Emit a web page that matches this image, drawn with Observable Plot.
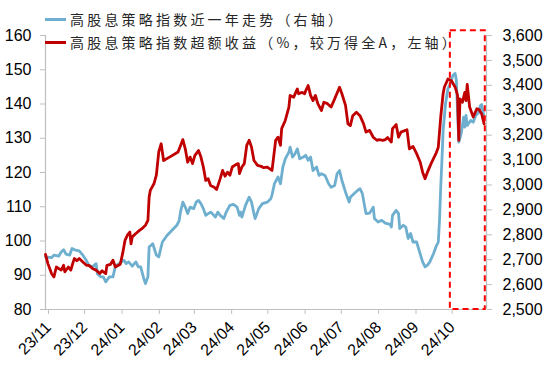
<!DOCTYPE html>
<html><head><meta charset="utf-8">
<script src="https://cdn.jsdelivr.net/npm/d3@7"></script>
<script src="https://cdn.jsdelivr.net/npm/@observablehq/plot@0.6"></script>
<style>
body{margin:0;background:#fff;}
#wrap{position:relative;width:550px;height:367px;overflow:hidden;}
.leg{position:absolute;left:45px;height:16px;font-family:"Noto Sans CJK SC",sans-serif;font-size:14px;letter-spacing:3.2px;color:#262626;display:flex;align-items:center;white-space:nowrap;line-height:16px;}
.sw{width:21px;height:3px;margin-right:4px;flex:none;}
</style></head>
<body><div id="wrap"></div>
<script>
// ---- series labels
const blueName = "高股息策略指数近一年走势（右轴）";
const redName = "高股息策略指数超额收益（%，较万得全A，左轴）";

// ---- excess return (left axis, %)
const redDates = ["2023-11-01","2023-11-03","2023-11-06","2023-11-08","2023-11-10","2023-11-14","2023-11-16","2023-11-17","2023-11-20","2023-11-22","2023-11-24","2023-11-25","2023-11-27","2023-11-29","2023-12-02","2023-12-05","2023-12-07","2023-12-10","2023-12-13","2023-12-16","2023-12-18","2023-12-21","2023-12-22","2023-12-25","2023-12-27","2023-12-29","2024-01-02","2024-01-04","2024-01-06","2024-01-08","2024-01-10","2024-01-11","2024-01-12","2024-01-15","2024-01-18","2024-01-20","2024-01-23","2024-01-25","2024-01-26","2024-01-27","2024-01-30","2024-02-01","2024-02-02","2024-02-03","2024-02-05","2024-02-07","2024-02-13","2024-02-19","2024-02-23","2024-02-25","2024-02-27","2024-02-29","2024-03-02","2024-03-04","2024-03-07","2024-03-09","2024-03-11","2024-03-13","2024-03-15","2024-03-17","2024-03-20","2024-03-22","2024-03-25","2024-03-27","2024-03-29","2024-03-31","2024-04-02","2024-04-04","2024-04-07","2024-04-09","2024-04-10","2024-04-12","2024-04-14","2024-04-16","2024-04-18","2024-04-20","2024-04-22","2024-04-25","2024-04-28","2024-04-30","2024-05-03","2024-05-07","2024-05-08","2024-05-10","2024-05-12","2024-05-14","2024-05-15","2024-05-18","2024-05-21","2024-05-22","2024-05-25","2024-05-28","2024-05-29","2024-06-01","2024-06-03","2024-06-04","2024-06-06","2024-06-08","2024-06-10","2024-06-12","2024-06-14","2024-06-17","2024-06-19","2024-06-22","2024-06-25","2024-06-28","2024-07-02","2024-07-04","2024-07-07","2024-07-09","2024-07-11","2024-07-13","2024-07-16","2024-07-19","2024-07-22","2024-07-24","2024-07-27","2024-07-30","2024-08-02","2024-08-04","2024-08-07","2024-08-09","2024-08-11","2024-08-14","2024-08-15","2024-08-18","2024-08-20","2024-08-22","2024-08-27","2024-08-29","2024-09-01","2024-09-04","2024-09-07","2024-09-09","2024-09-11","2024-09-13","2024-09-16","2024-09-20","2024-09-22","2024-09-24","2024-09-26","2024-09-27","2024-09-30","2024-10-03","2024-10-06","2024-10-08","2024-10-09","2024-10-10","2024-10-12","2024-10-14","2024-10-15","2024-10-16","2024-10-18","2024-10-21","2024-10-24","2024-10-26","2024-10-28","2024-10-30"];
const redValues = [96.1,93.4,90.5,89.5,92.4,91.5,92.9,91.0,92.4,91.5,93.9,94.9,94.2,94.9,93.9,92.9,92.9,92.0,91.5,90.5,91.3,90.5,92.9,93.2,94.4,92.4,93.2,96.3,100.2,101.7,102.6,99.2,101.2,102.2,103.1,103.6,104.6,106.0,112.8,114.8,116.7,119.2,122.6,126.0,128.4,123.5,124.7,126.0,129.6,126.9,123.0,124.5,122.6,125.0,126.4,124.5,121.6,117.7,118.2,116.2,115.7,115.0,118.2,120.6,118.9,120.1,119.2,121.6,122.3,122.6,119.7,121.6,122.6,127.9,129.4,127.4,123.5,122.1,121.8,121.4,121.6,120.6,123.5,129.4,130.3,127.9,132.8,135.2,139.1,142.5,142.0,144.4,143.0,143.4,143.0,143.9,145.4,142.5,141.0,142.5,140.1,138.1,140.5,140.1,139.1,141.5,144.9,143.0,139.6,134.2,133.7,136.6,137.6,136.6,134.2,131.8,132.3,130.3,129.4,129.6,129.4,129.6,130.2,128.9,132.8,134.0,130.3,131.8,132.5,126.9,127.6,125.5,123.0,120.1,118.2,120.1,122.6,125.5,127.4,136.2,143.0,144.9,147.3,146.8,144.9,142.5,129.4,141.5,140.5,143.4,141.0,145.7,139.1,136.2,138.6,138.3,137.1,134.2];

// ---- index level (right axis)
const blueDates = ["2023-11-01","2023-11-06","2023-11-08","2023-11-12","2023-11-14","2023-11-16","2023-11-18","2023-11-21","2023-11-23","2023-11-26","2023-11-29","2023-12-02","2023-12-04","2023-12-07","2023-12-10","2023-12-13","2023-12-14","2023-12-17","2023-12-19","2023-12-21","2023-12-24","2023-12-27","2023-12-29","2024-01-03","2024-01-05","2024-01-07","2024-01-09","2024-01-12","2024-01-15","2024-01-17","2024-01-19","2024-01-22","2024-01-23","2024-01-25","2024-01-26","2024-01-29","2024-02-01","2024-02-03","2024-02-06","2024-02-10","2024-02-14","2024-02-18","2024-02-20","2024-02-21","2024-02-23","2024-02-25","2024-02-27","2024-02-29","2024-03-03","2024-03-05","2024-03-07","2024-03-09","2024-03-11","2024-03-13","2024-03-15","2024-03-17","2024-03-19","2024-03-21","2024-03-23","2024-03-25","2024-03-28","2024-03-30","2024-04-02","2024-04-05","2024-04-08","2024-04-10","2024-04-11","2024-04-12","2024-04-15","2024-04-18","2024-04-20","2024-04-22","2024-04-23","2024-04-26","2024-04-29","2024-05-03","2024-05-06","2024-05-07","2024-05-09","2024-05-12","2024-05-14","2024-05-16","2024-05-18","2024-05-21","2024-05-22","2024-05-24","2024-05-26","2024-05-28","2024-05-30","2024-06-02","2024-06-04","2024-06-06","2024-06-08","2024-06-10","2024-06-13","2024-06-15","2024-06-17","2024-06-20","2024-06-23","2024-06-25","2024-06-28","2024-06-30","2024-07-02","2024-07-04","2024-07-07","2024-07-08","2024-07-10","2024-07-11","2024-07-14","2024-07-17","2024-07-19","2024-07-21","2024-07-23","2024-07-24","2024-07-27","2024-07-30","2024-07-31","2024-08-03","2024-08-06","2024-08-09","2024-08-13","2024-08-14","2024-08-15","2024-08-18","2024-08-20","2024-08-21","2024-08-24","2024-08-26","2024-08-28","2024-08-30","2024-09-01","2024-09-04","2024-09-06","2024-09-09","2024-09-11","2024-09-13","2024-09-15","2024-09-18","2024-09-20","2024-09-22","2024-09-23","2024-09-24","2024-09-25","2024-09-26","2024-09-28","2024-09-30","2024-10-02","2024-10-04","2024-10-06","2024-10-07","2024-10-08","2024-10-09","2024-10-11","2024-10-13","2024-10-14","2024-10-15","2024-10-16","2024-10-19","2024-10-21","2024-10-23","2024-10-25","2024-10-27","2024-10-28","2024-10-30"];
const blueValues = [2711,2708,2718,2714,2731,2740,2722,2718,2745,2738,2735,2718,2704,2678,2671,2684,2644,2631,2631,2611,2631,2631,2674,2691,2698,2684,2691,2674,2691,2671,2671,2617,2604,2631,2751,2764,2718,2711,2771,2798,2818,2838,2858,2891,2931,2911,2885,2911,2905,2931,2938,2925,2905,2878,2885,2891,2882,2871,2891,2878,2865,2891,2918,2922,2911,2878,2891,2871,2918,2951,2931,2885,2865,2905,2925,2931,2945,2960,3005,3032,3005,3072,3105,3132,3152,3112,3125,3145,3105,3112,3119,3099,3112,3058,3072,3038,3045,3038,3005,2991,2998,3045,3058,3018,2971,2958,2931,2951,2965,2978,2985,2965,2911,2885,2887,2911,2865,2851,2858,2847,2842,2831,2878,2898,2885,2825,2838,2831,2785,2805,2771,2771,2738,2691,2671,2678,2691,2724,2751,2771,2858,2990,3098,3219,3326,3386,3406,3439,3448,3419,3286,3172,3206,3272,3232,3279,3239,3259,3252,3279,3288,3319,3323,3272];

// ---- axes
const xDomain = ["2023-11-01","2024-11-01"];
const xTickDates = ["2023-11-01","2023-12-01","2024-01-01","2024-02-01","2024-03-01","2024-04-01","2024-05-01","2024-06-01","2024-07-01","2024-08-01","2024-09-01","2024-10-01"];
const leftTicks = [80,90,100,110,120,130,140,150,160];
const rightTicks = [2500,2600,2700,2800,2900,3000,3100,3200,3300,3400,3500,3600];
const leftDomain = [80,160];
const rightDomain = [2500,3600];

// ---- highlighted period (dashed box)
const highlightDates = ["2024-10-02","2024-10-31"];
const highlightRange = [80,161.4];

const colors = {blue:"#6eafcf", red:"#c00000", box:"#ff0000", axis:"#bfbfbf"};

const P = d3.utcParse("%Y-%m-%d");
// map right-axis values onto the left scale
const toLeft = v => leftDomain[0] + (v - rightDomain[0]) * (leftDomain[1]-leftDomain[0]) / (rightDomain[1]-rightDomain[0]);
const fromLeft = y => rightDomain[0] + (y - leftDomain[0]) * (rightDomain[1]-rightDomain[0]) / (leftDomain[1]-leftDomain[0]);

const red = redDates.map((d,i) => ({date:P(d), v:redValues[i]}));
const blue = blueDates.map((d,i) => ({date:P(d), v:toLeft(blueValues[i])}));
const box = [{x1:P(highlightDates[0]), x2:P(highlightDates[1]), y1:highlightRange[0], y2:highlightRange[1]}];
const x0 = P(xDomain[0]), x1 = P(xDomain[1]);

const chart = Plot.plot({
  width:550, height:367,
  marginLeft:45, marginRight:64, marginTop:35, marginBottom:58,
  style:{fontFamily:"'Liberation Sans', Arial, sans-serif", fontSize:"16px", color:"#000", background:"transparent"},
  x:{type:"utc", domain:[x0, x1]},
  y:{domain:leftDomain},
  marks:[
    Plot.ruleY([leftDomain[0]], {x1:x0, x2:x1, stroke:colors.axis, strokeWidth:1.2}),
    Plot.ruleX([x0], {y1:leftDomain[0], y2:leftDomain[1], stroke:colors.axis, strokeWidth:1.2}),
    Plot.ruleX([x1], {y1:leftDomain[0], y2:leftDomain[1], stroke:colors.axis, strokeWidth:1.2}),
    Plot.axisY({ticks:leftTicks, tickSize:5, tickPadding:9, stroke:colors.axis, fill:"#000", label:null, fontSize:16}),
    Plot.axisY({anchor:"right", ticks:rightTicks.map(toLeft), tickFormat:y => d3.format(",")(Math.round(fromLeft(y))), tickSize:5, tickPadding:11, stroke:colors.axis, fill:"#000", label:null, fontSize:16}),
    Plot.axisX({ticks:xTickDates.map(P), tickFormat:d3.utcFormat("%y/%m"), tickRotate:-45, tickSize:5, tickPadding:10, dx:3, stroke:colors.axis, fill:"#000", label:null, fontSize:16}),
    Plot.lineY(blue, {x:"date", y:"v", stroke:colors.blue, strokeWidth:2.8, curve:"linear"}),
    Plot.lineY(red, {x:"date", y:"v", stroke:colors.red, strokeWidth:2.8, curve:"linear"}),
    Plot.rect(box, {x1:"x1", x2:"x2", y1:"y1", y2:"y2", fill:"none", stroke:colors.box, strokeWidth:2, strokeDasharray:"6,4"})
  ]
});

const wrap = document.getElementById("wrap");
wrap.appendChild(chart);
chart.style.position = "absolute"; chart.style.left = "0"; chart.style.top = "0";

[[blueName, colors.blue, 11], [redName, colors.red, 34]].forEach(([name, c, top]) => {
  const row = document.createElement("div");
  row.className = "leg"; row.style.top = top + "px";
  const sw = document.createElement("div"); sw.className = "sw"; sw.style.background = c;
  const t = document.createElement("span"); t.textContent = name;
  row.appendChild(sw); row.appendChild(t);
  wrap.appendChild(row);
});
</script>
</body></html>
